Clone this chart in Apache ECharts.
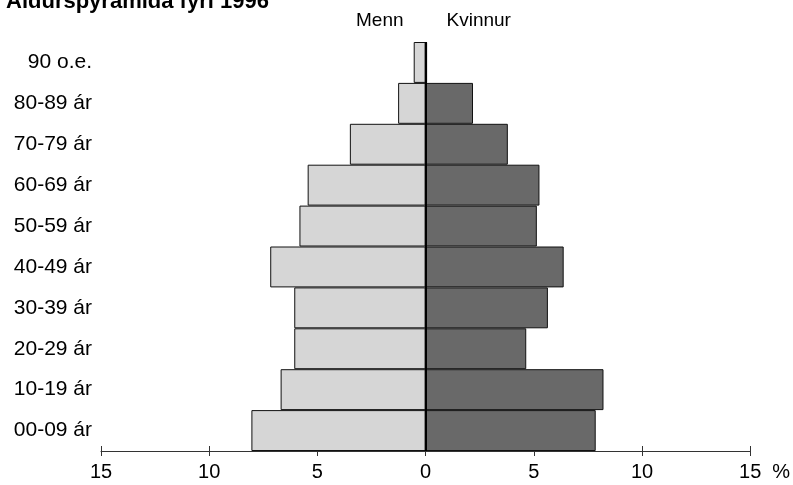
<!DOCTYPE html>
<html>
<head>
<meta charset="utf-8">
<title>Aldurspyramida</title>
<script src="https://cdn.jsdelivr.net/npm/echarts@6/dist/echarts.min.js"></script>
<style>
  html, body { margin: 0; padding: 0; background: #fff; }
  #main { width: 793px; height: 485px; }
</style>
</head>
<body>
<div id="main"></div>
<script>
/* aldursbólkar, frá ovast */
var ageGroups = ['90 o.e.', '80-89 ár', '70-79 ár', '60-69 ár', '50-59 ár', '40-49 ár', '30-39 ár', '20-29 ár', '10-19 ár', '00-09 ár'];
// prosent
var menn = [0.55, 1.27, 3.5, 5.45, 5.83, 7.18, 6.07, 6.07, 6.7, 8.05];
var kvinnur = [0.07, 2.19, 3.8, 5.26, 5.14, 6.38, 5.65, 4.65, 8.22, 7.86];
var xTicks = [-15, 15, 5]; // min, max, interval

(function () {
  var myChart = echarts.init(document.getElementById('main'));
  var font = 'Liberation Sans, Arial, sans-serif';
  var option = {
    animation: false,
    textStyle: { fontFamily: font },
    title: {
      text: 'Aldurspyramida fyri 1996',
      left: 6,
      top: -9,
      padding: 0,
      textStyle: { fontSize: 22, fontWeight: 'bold', color: '#000', fontFamily: font }
    },
    legend: {
      data: ['Menn', 'Kvinnur'],
      left: 346,
      top: 6,
      icon: 'none',
      itemWidth: 0,
      itemGap: 38,
      selectedMode: false,
      textStyle: { fontSize: 19, color: '#000', fontFamily: font }
    },
    grid: {
      left: 101,
      right: 41,
      top: 42,
      bottom: 34
    },
    xAxis: [
      {
        type: 'value',
        min: xTicks[0],
        max: xTicks[1],
        interval: xTicks[2],
        name: '%',
        nameLocation: 'end',
        nameGap: 22,
        nameTextStyle: { fontSize: 20, color: '#000', verticalAlign: 'top', padding: [11, 0, 0, 0] },
        axisLine: { show: true, onZero: false, lineStyle: { color: '#333', width: 1 } },
        axisTick: { show: true, inside: true, length: 5, lineStyle: { color: '#333' } },
        axisLabel: {
          fontSize: 20,
          color: '#000',
          margin: 11,
          formatter: function (v) { return Math.abs(v); }
        },
        splitLine: { show: false }
      },
      {
        // ticks niður um aksan
        type: 'value',
        position: 'bottom',
        min: xTicks[0],
        max: xTicks[1],
        interval: xTicks[2],
        axisLine: { show: false },
        axisTick: { show: true, length: 5, lineStyle: { color: '#333' } },
        axisLabel: { show: false },
        splitLine: { show: false }
      }
    ],
    yAxis: {
      type: 'category',
      data: ageGroups,
      inverse: true,
      axisLine: { show: false, onZero: false },
      axisTick: { show: false },
      axisLabel: { fontSize: 21, color: '#000', margin: 9 }
    },
    series: [
      {
        name: 'Menn',
        type: 'bar',
        data: menn.map(function (v) { return -v; }),
        barGap: '-100%',
        barCategoryGap: 0,
        itemStyle: { color: '#d6d6d6', borderColor: '#111', borderWidth: 1 }
      },
      {
        name: 'Kvinnur',
        type: 'bar',
        data: kvinnur,
        barGap: '-100%',
        barCategoryGap: 0,
        itemStyle: { color: '#696969', borderColor: '#111', borderWidth: 1 },
        markLine: {
          silent: true,
          symbol: 'none',
          label: { show: false },
          lineStyle: { color: '#000', width: 2, type: 'solid' },
          data: [{ xAxis: 0 }]
        }
      }
    ]
  };
  myChart.setOption(option);
  window.addEventListener('resize', function () {
    myChart.resize();
  });
})();
</script>
</body>
</html>
